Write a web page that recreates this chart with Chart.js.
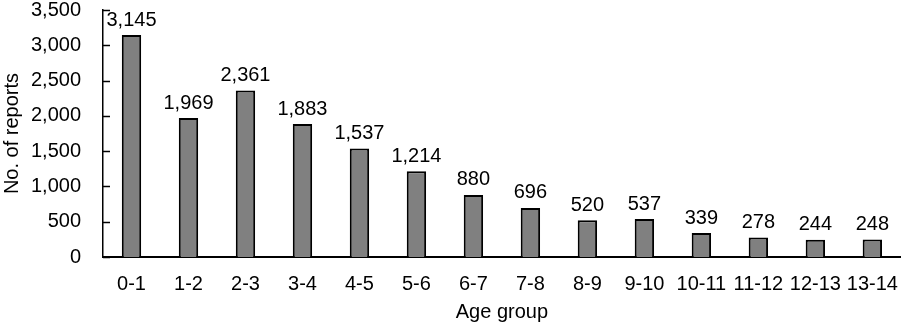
<!DOCTYPE html>
<html><head><meta charset="utf-8">
<script src="https://cdn.jsdelivr.net/npm/chart.js@4"></script>
<style>html,body{margin:0;padding:0;background:#fff}#wrap{width:913px;height:327px}</style>
</head><body><div id="wrap"><canvas id="c" width="913" height="327"></canvas></div>
<script>
const categories = ["0-1","1-2","2-3","3-4","4-5","5-6","6-7","7-8","8-9","9-10","10-11","11-12","12-13","13-14"];
const reports = [3145,1969,2361,1883,1537,1214,880,696,520,537,339,278,244,248];
const yTicks = [0,500,1000,1500,2000,2500,3000,3500];

const FONT = "'Liberation Sans', Arial, sans-serif";
const FS = 20;

const labelPlugin = {
  id: 'labels',
  afterDatasetsDraw(chart) {
    const ctx = chart.ctx;
    const meta = chart.getDatasetMeta(0);
    ctx.save();
    ctx.font = FS + "px " + FONT;
    ctx.fillStyle = "#000";
    ctx.textAlign = "center";
    ctx.textBaseline = "bottom";
    meta.data.forEach((bar, i) => {
      ctx.fillText(reports[i].toLocaleString('en-US'), bar.x, bar.y - 5);
    });
    const y = chart.scales.y;
    ctx.strokeStyle = "#000";
    ctx.lineWidth = 1.5;
    yTicks.forEach(v => {
      const py = Math.round(y.getPixelForValue(v)) + 0.5;
      ctx.beginPath();
      ctx.moveTo(y.right, py);
      ctx.lineTo(y.right + 7, py);
      ctx.stroke();
    });
    ctx.restore();
  }
};

new Chart(document.getElementById('c'), {
  type: 'bar',
  data: {
    labels: categories,
    datasets: [{
      data: reports,
      backgroundColor: '#808080',
      borderColor: '#000',
      borderWidth: 2,
      barPercentage: 0.68,
      categoryPercentage: 0.5
    }]
  },
  options: {
    responsive: false,
    animation: false,
    devicePixelRatio: 1,
    layout: { padding: { top: 10, right: 2, left: 0, bottom: 3 } },
    plugins: { legend: { display: false }, tooltip: { enabled: false } },
    scales: {
      x: {
        grid: { display: false, drawTicks: false },
        border: { display: true, color: '#000', width: 2 },
        ticks: { color: '#000', font: { size: FS, family: FONT }, padding: 15, maxRotation: 0, autoSkip: false },
        title: { display: true, text: 'Age group', color: '#000', font: { size: FS, family: FONT }, padding: { top: 1, bottom: 0 } },
        afterFit(s) { s.height = 67; }
      },
      y: {
        min: 0, max: 3500,
        grid: { display: false, drawTicks: false },
        border: { display: true, color: '#000', width: 1.5 },
        afterBuildTicks(s) { s.ticks = yTicks.map(v => ({ value: v })); },
        ticks: { color: '#000', font: { size: FS, family: FONT }, padding: 22,
          callback: v => Number(v).toLocaleString('en-US') },
        title: { display: true, text: 'No. of reports', color: '#000', font: { size: FS, family: FONT }, padding: { top: 0, bottom: 0 } },
        afterFit(s) { s.width = 103; s.paddingTop = 0; s.paddingBottom = 0; }
      }
    }
  },
  plugins: [labelPlugin]
});
</script></body></html>
